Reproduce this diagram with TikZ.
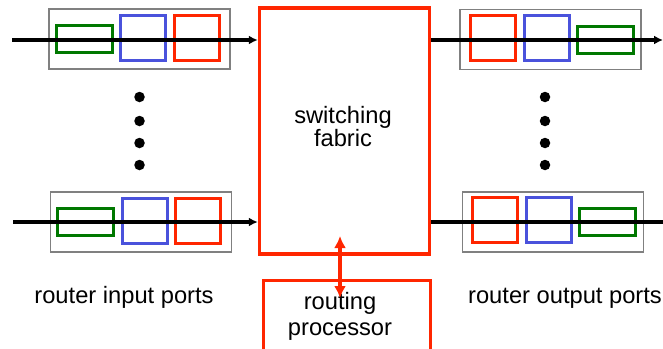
\documentclass[tikz,border=0pt]{standalone}
\usepackage{fontspec}
\setmainfont{Liberation Sans}
\usepackage{tikz}
\usetikzlibrary{arrows.meta}
\usetikzlibrary{positioning}
\definecolor{bufred}{RGB}{255,38,0}
\definecolor{bufblue}{RGB}{74,82,220}
\definecolor{bufgreen}{RGB}{0,120,0}
\definecolor{portgray}{RGB}{128,128,128}
\tikzset{>=latex}
\tikzset{port/.style = {draw = portgray, line width = 1.6pt, inner sep = 0, minimum width = 181pt, minimum height = 60pt}}
\tikzset{sq/.style = {draw = #1, line width = 3pt, inner sep = 0, minimum width = 45pt, minimum height = 45pt}}
\tikzset{flat/.style = {draw = bufgreen, line width = 3pt, inner sep = 0, minimum width = 56pt, minimum height = 27pt}}
\tikzset{dot/.style = {circle, fill = black, inner sep = 0, minimum size = 10.5pt}}
\tikzset{link/.style = {line width = 3.2pt, -{Latex[length = 9pt, width = 9pt]}}}

\begin{document}
\begin{tikzpicture}[x = 1pt, y = -1pt, font = \fontsize{23.7}{26}\selectfont]
\useasboundingbox (0, 0) rectangle (663, 348);
% fabric and processor
\node [draw = bufred, line width = 3.4pt, inner sep = 0, minimum width = 170pt, minimum height = 246pt] (F) at (344.5, 131) {};
\node [align = center] (Ft) at (343, 127) {switching\\[-3pt]fabric};
\node [draw = bufred, line width = 3.4pt, inner sep = 0, minimum width = 167pt, minimum height = 76pt, anchor = north west] (R) at (262, 279) {};
\node [align = center] (Rt) at (340, 316) {routing\\[0pt]processor};
% input ports
\node [port] (P1) at (139.5, 39) {};
\node [flat] (G1) at (84, 39) {};
\node [sq = bufblue] (B1) at (143, 38) {};
\node [sq = bufred] (R1) at (196.5, 38) {};
\node [port] (P2) at (141, 222) {};
\node [flat] (G2) at (85.5, 222) {};
\node [sq = bufblue] (B2) at (145, 220.5) {};
\node [sq = bufred] (R2) at (198, 220.5) {};
% output ports
\node [port] (P3) at (550.5, 39.5) {};
\node [sq = bufred] (R3) at (493, 38) {};
\node [sq = bufblue] (B3) at (546.5, 38) {};
\node [flat] (G3) at (605.5, 40) {};
\node [port] (P4) at (553, 222) {};
\node [sq = bufred] (R4) at (495, 220) {};
\node [sq = bufblue] (B4) at (548.5, 220) {};
\node [flat] (G4) at (607.5, 222) {};
% lines
\coordinate (I1) at (12, 40);
\coordinate (I2) at (13, 222);
\coordinate (O1) at (663, 40);
\coordinate (O2) at (663, 222);
\draw [link] (I1) to (I1 -| F.west);
\draw [link] (I2) to (I2 -| F.west);
\draw [link] (O1 -| F.east) to (O1);
\draw [line width = 3.2pt] (O2 -| F.east) to (O2);
\coordinate (A1) at (340, 236);
\coordinate (A2) at (340, 298);
\draw [{Latex[length = 12pt, width = 12pt]}-{Latex[length = 12pt, width = 12pt]}, draw = bufred, line width = 3.6pt] (A1) to (A2);
% dots
\foreach \y [count = \i] in {97, 121, 143, 165} {
  \node [dot] (dl\i) at (139.5, \y) {};
  \node [dot] (dr\i) at (545, \y) {};
}
% labels
\node (Lin) at (124, 297) {router input ports};
\node (Lout) at (565, 298) {router output ports};
\end{tikzpicture}
\end{document}
